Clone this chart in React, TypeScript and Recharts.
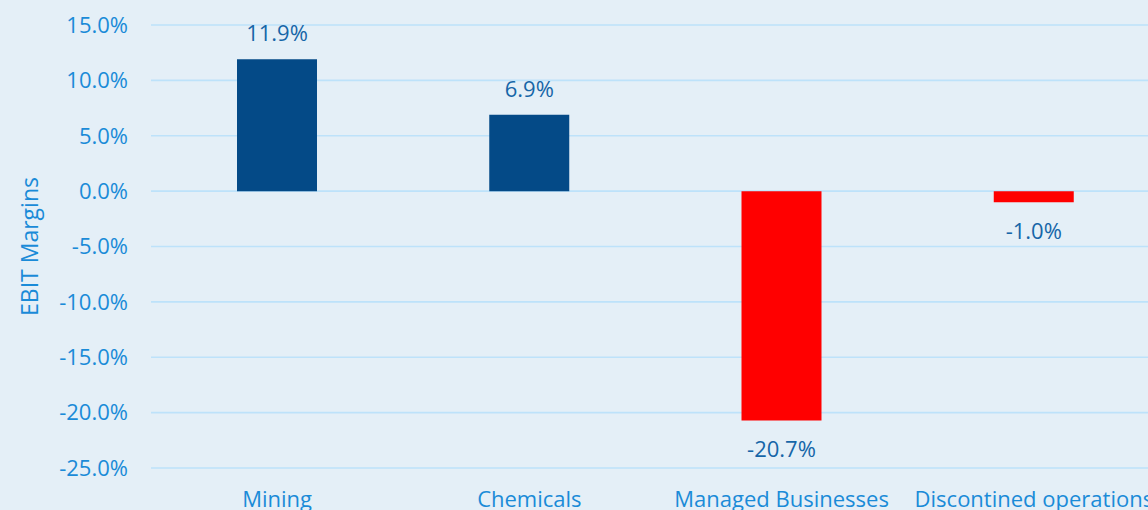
import React from 'react';
import {
  BarChart,
  Bar,
  XAxis,
  YAxis,
  CartesianGrid,
  Cell,
  LabelList
} from 'recharts';

const segments = ['Mining', 'Chemicals', 'Managed Businesses', 'Discontined operations'];
const ebitMargins = [11.9, 6.9, -20.7, -1.0];
const yTicks = [15, 10, 5, 0, -5, -10, -15, -20, -25];

const chartData = segments.map((name, i) => ({ name, margin: ebitMargins[i] }));

const FONT = '"Open Sans", "Noto Sans", sans-serif';
const TICK_COLOR = '#1a8bd8';
const LABEL_COLOR = '#1666a8';

// 값 라벨: 양수는 막대 위, 음수는 막대 아래
const renderValueLabel = (props: any) => {
  const { x, y, width, height, value } = props;
  const top = Math.min(y, y + height);
  const bottom = Math.max(y, y + height);
  const cx = x + width / 2;
  const cy = value >= 0 ? top - 27 : bottom + 28;
  return (
    <text
      x={cx}
      y={cy}
      textAnchor="middle"
      dominantBaseline="central"
      fill={LABEL_COLOR}
      fontSize={22}
      fontFamily={FONT}
    >
      {`${Number(value).toFixed(1)}%`}
    </text>
  );
};

export default function App() {
  return (
    <div
      style={{
        position: 'absolute',
        left: 0,
        top: 0,
        width: 1148,
        height: 510,
        overflow: 'hidden',
        background: '#e4eff7'
      }}
    >
      <BarChart
        width={1160}
        height={528}
        data={chartData}
        margin={{ top: 25, right: 0, bottom: 0, left: 0 }}
      >
        <CartesianGrid vertical={false} stroke="#bde2fa" strokeWidth={1.6} />
        <XAxis
          dataKey="name"
          axisLine={false}
          tickLine={false}
          tickSize={0}
          tickMargin={23}
          height={60}
          interval={0}
          tick={{ fill: TICK_COLOR, fontSize: 22, fontFamily: FONT }}
        />
        <YAxis
          domain={[-25, 15]}
          ticks={yTicks}
          width={151}
          axisLine={false}
          tickLine={false}
          tickSize={0}
          tickMargin={23}
          tickFormatter={(v: number) => `${v.toFixed(1)}%`}
          tick={{ fill: TICK_COLOR, fontSize: 22, fontFamily: FONT }}
          label={{
            value: 'EBIT Margins',
            angle: -90,
            position: 'insideLeft',
            offset: 30,
            style: { fill: TICK_COLOR, fontSize: 23, fontFamily: FONT, textAnchor: 'middle' }
          }}
        />
        <Bar dataKey="margin" barSize={80} isAnimationActive={false}>
          {chartData.map((d, i) => (
            <Cell key={i} fill={d.margin >= 0 ? '#044a87' : '#ff0000'} />
          ))}
          <LabelList dataKey="margin" content={renderValueLabel} />
        </Bar>
      </BarChart>
    </div>
  );
}
